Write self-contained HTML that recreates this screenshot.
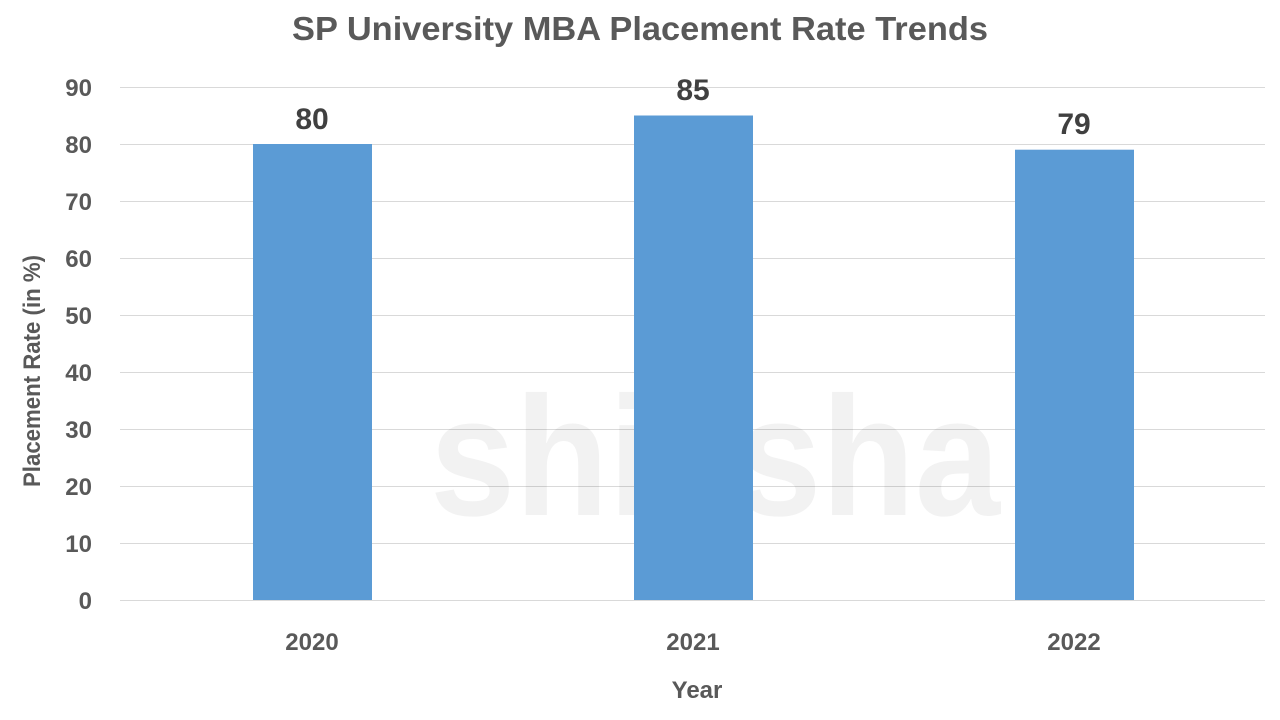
<!DOCTYPE html>
<html><head><meta charset="utf-8"><style>
html,body{margin:0;padding:0;background:#fff;}
svg{display:block;}
</style></head><body>
<svg width="1280" height="720" viewBox="0 0 1280 720" xmlns="http://www.w3.org/2000/svg" font-family="Liberation Sans, sans-serif" font-weight="bold">
<text x="640" y="40" text-anchor="middle" font-size="33" fill="#595959" textLength="696" lengthAdjust="spacingAndGlyphs">SP University MBA Placement Rate Trends</text>
<g stroke="#d9d9d9" stroke-width="1">
<line x1="120" x2="1265" y1="87.5" y2="87.5"/>
<line x1="120" x2="1265" y1="144.5" y2="144.5"/>
<line x1="120" x2="1265" y1="201.5" y2="201.5"/>
<line x1="120" x2="1265" y1="258.5" y2="258.5"/>
<line x1="120" x2="1265" y1="315.5" y2="315.5"/>
<line x1="120" x2="1265" y1="372.5" y2="372.5"/>
<line x1="120" x2="1265" y1="429.5" y2="429.5"/>
<line x1="120" x2="1265" y1="486.5" y2="486.5"/>
<line x1="120" x2="1265" y1="543.5" y2="543.5"/>
<line x1="120" x2="1265" y1="600.5" y2="600.5"/>
</g>
<text x="430" y="515" font-size="170" fill="#000" fill-opacity="0.05" textLength="570" lengthAdjust="spacingAndGlyphs">shiksha</text>
<g fill="#5b9bd5">
<rect x="253" y="144" width="119" height="456"/>
<rect x="634" y="115.5" width="119" height="484.5"/>
<rect x="1015" y="149.7" width="119" height="450.3"/>
</g>
<g font-size="30" fill="#404040" text-anchor="middle">
<text x="312" y="129">80</text>
<text x="693" y="100">85</text>
<text x="1074" y="134">79</text>
</g>
<g font-size="24" fill="#595959" text-anchor="end">
<text x="92" y="96">90</text>
<text x="92" y="153">80</text>
<text x="92" y="210">70</text>
<text x="92" y="267">60</text>
<text x="92" y="324">50</text>
<text x="92" y="381">40</text>
<text x="92" y="438">30</text>
<text x="92" y="495">20</text>
<text x="92" y="552">10</text>
<text x="92" y="609">0</text>
</g>
<g font-size="24" fill="#595959" text-anchor="middle">
<text x="312" y="650">2020</text>
<text x="693" y="650">2021</text>
<text x="1074" y="650">2022</text>
<text x="697" y="698">Year</text>
<text transform="translate(40,371) rotate(-90)" textLength="232" lengthAdjust="spacingAndGlyphs">Placement Rate (in %)</text>
</g>
</svg>
</body></html>
